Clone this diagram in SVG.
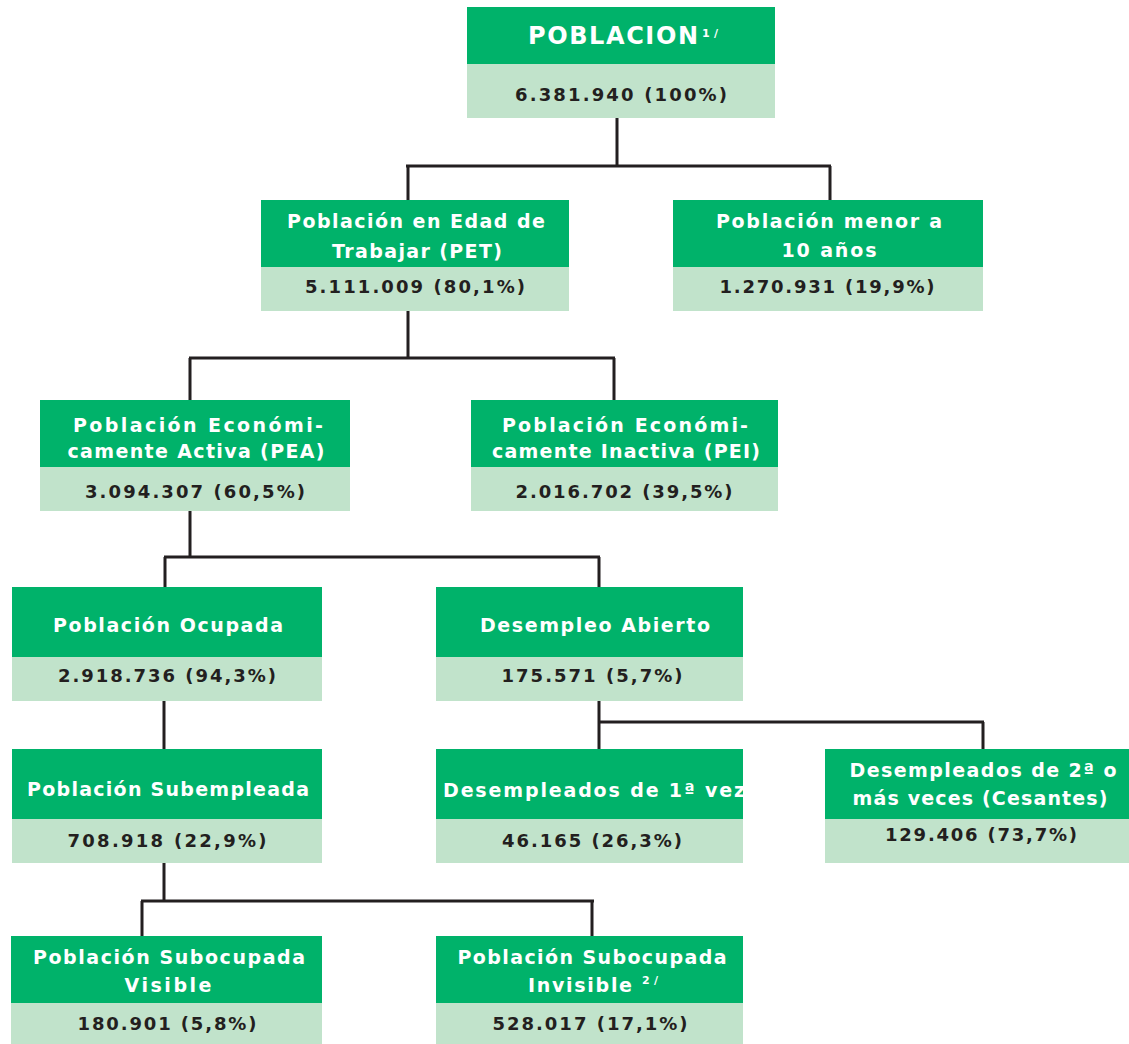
<svg xmlns="http://www.w3.org/2000/svg" width="1129" height="1044" viewBox="0 0 1129 1044">
<style>
.hd{fill:#00b26a}
.bd{fill:#c1e3cb}
.lb{font-family:"DejaVu Sans","Verdana",sans-serif;font-weight:bold;font-size:19px;fill:#ffffff;text-anchor:middle}
.vl{font-family:"DejaVu Sans","Verdana",sans-serif;font-weight:bold;font-size:18px;fill:#231f20;text-anchor:middle}
.sp{font-family:"DejaVu Sans","Verdana",sans-serif;font-weight:bold;font-size:11px;fill:#ffffff}
.ln{stroke:#231f20;stroke-width:3;fill:none}
</style>
<rect width="1129" height="1044" fill="#ffffff"/>
<g id="connectors">
<path class="ln" d="M617 118V166M406 166H831M408 166V200M830 166V200"/>
<path class="ln" d="M408 311V358M189 358H615M190 358V400M614 358V400"/>
<path class="ln" d="M190 511V557M164 557H600M165 557V587M599 557V587"/>
<path class="ln" d="M164 701V749"/>
<path class="ln" d="M599 701V749M599 722H984M983 722V749"/>
<path class="ln" d="M164 863V901M141 901H594M142 901V936M592 901V936"/>
</g>
<g id="poblacion">
<rect class="hd" x="467" y="7" width="308" height="57"/>
<rect class="bd" x="467" y="64" width="308" height="54"/>
<text class="lb" style="font-size:24px" x="613" y="44" textLength="170" lengthAdjust="spacing">POBLACION</text>
<text class="sp" x="702" y="37" textLength="16" lengthAdjust="spacing">1/</text>
<text class="vl" x="621" y="101" textLength="212" lengthAdjust="spacing">6.381.940 (100%)</text>
</g>
<g id="pet">
<rect class="hd" x="261" y="200" width="308" height="67"/>
<rect class="bd" x="261" y="267" width="308" height="44"/>
<text class="lb" x="416" y="228" textLength="258" lengthAdjust="spacing">Población en Edad de</text>
<text class="lb" x="417" y="258" textLength="170" lengthAdjust="spacing">Trabajar (PET)</text>
<text class="vl" x="415" y="293" textLength="220" lengthAdjust="spacing">5.111.009 (80,1%)</text>
</g>
<g id="menor">
<rect class="hd" x="673" y="200" width="310" height="67"/>
<rect class="bd" x="673" y="267" width="310" height="44"/>
<text class="lb" x="829" y="228" textLength="226" lengthAdjust="spacing">Población menor a</text>
<text class="lb" x="829" y="257" textLength="95" lengthAdjust="spacing">10 años</text>
<text class="vl" x="827" y="293" textLength="215" lengthAdjust="spacing">1.270.931 (19,9%)</text>
</g>
<g id="pea">
<rect class="hd" x="40" y="400" width="310" height="67"/>
<rect class="bd" x="40" y="467" width="310" height="44"/>
<text class="lb" x="198" y="432" textLength="250" lengthAdjust="spacing">Población Económi-</text>
<text class="lb" x="196" y="458" textLength="257" lengthAdjust="spacing">camente Activa (PEA)</text>
<text class="vl" x="195" y="498" textLength="220" lengthAdjust="spacing">3.094.307 (60,5%)</text>
</g>
<g id="pei">
<rect class="hd" x="471" y="400" width="307" height="67"/>
<rect class="bd" x="471" y="467" width="307" height="44"/>
<text class="lb" x="625" y="432" textLength="246" lengthAdjust="spacing">Población Económi-</text>
<text class="lb" x="626" y="458" textLength="268" lengthAdjust="spacing">camente Inactiva (PEI)</text>
<text class="vl" x="624" y="498" textLength="217" lengthAdjust="spacing">2.016.702 (39,5%)</text>
</g>
<g id="ocupada">
<rect class="hd" x="12" y="587" width="310" height="70"/>
<rect class="bd" x="12" y="657" width="310" height="44"/>
<text class="lb" x="168" y="632" textLength="230" lengthAdjust="spacing">Población Ocupada</text>
<text class="vl" x="167" y="682" textLength="218" lengthAdjust="spacing">2.918.736 (94,3%)</text>
</g>
<g id="desempleo">
<rect class="hd" x="436" y="587" width="307" height="70"/>
<rect class="bd" x="436" y="657" width="307" height="44"/>
<text class="lb" x="595" y="632" textLength="230" lengthAdjust="spacing">Desempleo Abierto</text>
<text class="vl" x="592" y="682" textLength="181" lengthAdjust="spacing">175.571 (5,7%)</text>
</g>
<g id="subempleada">
<rect class="hd" x="12" y="749" width="310" height="70"/>
<rect class="bd" x="12" y="819" width="310" height="44"/>
<text class="lb" x="168" y="796" textLength="282" lengthAdjust="spacing">Población Subempleada</text>
<text class="vl" x="167" y="847" textLength="199" lengthAdjust="spacing">708.918 (22,9%)</text>
</g>
<g id="desempleados1">
<rect class="hd" x="436" y="749" width="307" height="70"/>
<rect class="bd" x="436" y="819" width="307" height="44"/>
<text class="lb" x="594" y="797" textLength="302" lengthAdjust="spacing">Desempleados de 1ª vez</text>
<text class="vl" x="592" y="847" textLength="180" lengthAdjust="spacing">46.165 (26,3%)</text>
</g>
<g id="desempleados2">
<rect class="hd" x="825" y="749" width="304" height="70"/>
<rect class="bd" x="825" y="819" width="304" height="44"/>
<text class="lb" x="983" y="777" textLength="267" lengthAdjust="spacing">Desempleados de 2ª o</text>
<text class="lb" x="980" y="805" textLength="255" lengthAdjust="spacing">más veces (Cesantes)</text>
<text class="vl" x="981" y="841" textLength="192" lengthAdjust="spacing">129.406 (73,7%)</text>
</g>
<g id="visible">
<rect class="hd" x="11" y="936" width="311" height="67"/>
<rect class="bd" x="11" y="1003" width="311" height="41"/>
<text class="lb" x="169" y="964" textLength="272" lengthAdjust="spacing">Población Subocupada</text>
<text class="lb" x="168" y="992" textLength="87" lengthAdjust="spacing">Visible</text>
<text class="vl" x="167" y="1030" textLength="179" lengthAdjust="spacing">180.901 (5,8%)</text>
</g>
<g id="invisible">
<rect class="hd" x="436" y="936" width="307" height="67"/>
<rect class="bd" x="436" y="1003" width="307" height="41"/>
<text class="lb" x="592" y="964" textLength="269" lengthAdjust="spacing">Población Subocupada</text>
<text class="lb" x="580" y="992" textLength="104" lengthAdjust="spacing">Invisible</text>
<text class="sp" x="642" y="984" textLength="16" lengthAdjust="spacing">2/</text>
<text class="vl" x="590" y="1030" textLength="195" lengthAdjust="spacing">528.017 (17,1%)</text>
</g>
</svg>
